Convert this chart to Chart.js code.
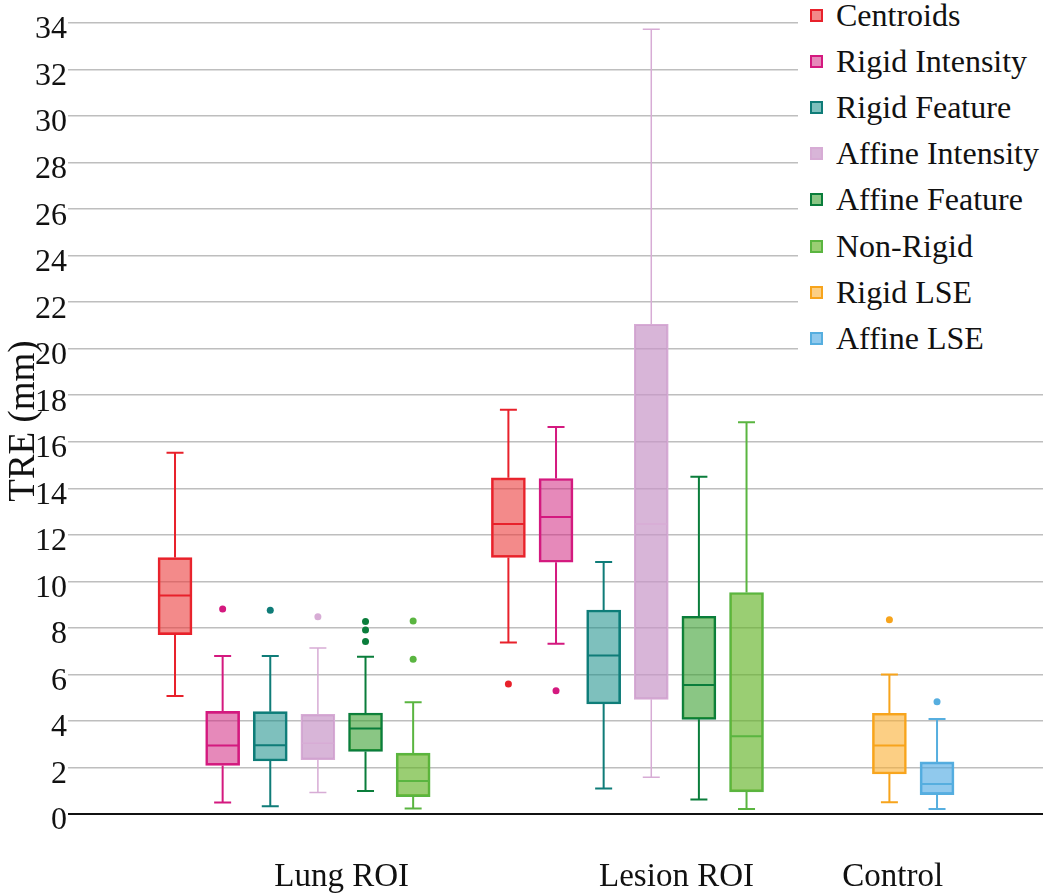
<!DOCTYPE html>
<html>
<head>
<meta charset="utf-8">
<script src="https://cdn.jsdelivr.net/npm/chart.js@4.4.1/dist/chart.umd.min.js"></script>
<style>
  body { margin: 0; background: #fff; }
  #wrap { position: relative; width: 1050px; height: 896px; }
  #legend {
    position: absolute; left: 798px; top: 0; width: 252px; height: 362px;
    background: #fff; color: #111;
    font-family: 'Liberation Serif', 'Times New Roman', serif; font-size: 32px;
  }
  #legend .row { position: absolute; left: 12px; height: 46px; display: flex; align-items: center; white-space: nowrap; }
  #legend .sw { width: 13px; height: 13px; box-sizing: border-box; border: 2px solid; margin-right: 13px; }
</style>
</head>
<body>
<div id="wrap">
  <canvas id="chart" width="1050" height="896"></canvas>
  <div id="legend"></div>
</div>
<script>
const groups = ['Lung ROI', 'Lesion ROI', 'Control'];
const methods = ['Centroids', 'Rigid Intensity', 'Rigid Feature', 'Affine Intensity',
                 'Affine Feature', 'Non-Rigid', 'Rigid LSE', 'Affine LSE'];

// [whisker low, q1, median, q3, whisker high] for Lung ROI, Lesion ROI, Control
const centroids       = [[5.07, 7.71, 9.39, 11.02, 15.53], [7.37, 11.03, 12.47, 14.45, 17.38], null];
const rigidIntensity  = [[0.49, 2.09, 2.94, 4.41, 6.79],   [7.32, 10.82, 12.77, 14.42, 16.64], null];
const rigidFeature    = [[0.33, 2.28, 2.95, 4.40, 6.79],   [1.10, 4.73, 6.81, 8.77, 10.83],    null];
const affineIntensity = [[0.92, 2.34, 3.04, 4.28, 7.14],   [1.58, 4.93, 12.47, 21.05, 33.73],  null];
const affineFeature   = [[0.99, 2.69, 3.68, 4.34, 6.76],   [0.62, 4.07, 5.55, 8.50, 14.50],    null];
const nonRigid        = [[0.24, 0.75, 1.42, 2.62, 4.80],   [0.21, 0.95, 3.34, 9.52, 16.84],    null];
const rigidLSE        = [null, null, [0.50, 1.72, 2.94, 4.33, 6.00]];
const affineLSE       = [null, null, [0.21, 0.83, 1.29, 2.24, 4.08]];

// outliers per group
const centroidsOut       = [[], [5.59], []];
const rigidIntensityOut  = [[8.81], [5.30], []];
const rigidFeatureOut    = [[8.76], [], []];
const affineIntensityOut = [[8.48], [], []];
const affineFeatureOut   = [[8.27, 7.91, 7.42], [], []];
const nonRigidOut        = [[8.30, 6.65], [], []];
const rigidLSEOut        = [[], [], [8.35]];
const affineLSEOut       = [[], [], [4.83]];

const yTicks = [0, 34, 2]; // min, max, step

const boxes = [centroids, rigidIntensity, rigidFeature, affineIntensity, affineFeature, nonRigid, rigidLSE, affineLSE];
const outliers = [centroidsOut, rigidIntensityOut, rigidFeatureOut, affineIntensityOut,
                  affineFeatureOut, nonRigidOut, rigidLSEOut, affineLSEOut];

// layout: slot where each group starts, and where its label sits
const groupStart = [0, 7, 15];
const labelAt = [3.5, 10.53, 15.07];

const lineColors = ['#E8212B', '#D4197F', '#0F7C78', '#D7ACD5', '#0A7D3B', '#5AB540', '#F7A41C', '#56AEDF'];
const fillColors = ['rgba(235,60,60,0.6)', 'rgba(210,40,130,0.55)', 'rgba(20,140,135,0.55)',
                    'rgba(200,150,200,0.7)', 'rgba(60,160,50,0.6)', 'rgba(100,180,40,0.65)',
                    'rgba(250,175,50,0.6)', 'rgba(70,165,225,0.6)'];
const lineWidths = [2, 2, 2, 1.5, 2, 2, 2, 2];
const serif = "'Liberation Serif', 'Times New Roman', serif";

const datasets = [];
methods.forEach((name, i) => {
  const bars = [];
  const pts = [];
  groups.forEach((g, gi) => {
    const b = boxes[i][gi];
    if (!b) return;
    const order = boxes.slice(0, i).filter(s => s[gi]).length;
    const x = groupStart[gi] + order;
    bars.push({ x: x, y: [b[1], b[3]], lo: b[0], med: b[2], hi: b[4] });
    outliers[i][gi].forEach(v => pts.push({ x: x, y: v }));
  });
  datasets.push({
    type: 'bar', label: name, data: bars,
    backgroundColor: fillColors[i], borderColor: lineColors[i], borderWidth: lineWidths[i],
    borderSkipped: false, grouped: false, barThickness: 34
  });
  if (pts.length) {
    datasets.push({
      type: 'scatter', label: name + ' outliers', data: pts,
      pointRadius: 3.5, pointBackgroundColor: lineColors[i], pointBorderWidth: 0
    });
  }
});

// whiskers, caps and medians for the floating bars
const boxWhiskers = {
  id: 'boxWhiskers',
  afterDatasetsDraw(chart) {
    const { ctx, scales: { x, y } } = chart;
    chart.data.datasets.forEach(ds => {
      if (ds.type !== 'bar') return;
      ctx.save();
      ctx.strokeStyle = ds.borderColor;
      ctx.lineWidth = ds.borderWidth;
      ds.data.forEach(d => {
        const px = x.getPixelForValue(d.x);
        const yq1 = y.getPixelForValue(d.y[0]), yq3 = y.getPixelForValue(d.y[1]);
        const ylo = y.getPixelForValue(d.lo), yhi = y.getPixelForValue(d.hi);
        const ym = y.getPixelForValue(d.med);
        ctx.beginPath();
        ctx.moveTo(px, yq3); ctx.lineTo(px, yhi);
        ctx.moveTo(px, yq1); ctx.lineTo(px, ylo);
        ctx.moveTo(px - 8.5, yhi); ctx.lineTo(px + 8.5, yhi);
        ctx.moveTo(px - 8.5, ylo); ctx.lineTo(px + 8.5, ylo);
        ctx.moveTo(px - 16, ym); ctx.lineTo(px + 16, ym);
        ctx.stroke();
      });
      ctx.restore();
    });
  }
};

// axis title overlapping the tick labels, as in the original
const yTitle = {
  id: 'yTitle',
  afterDraw(chart) {
    const ctx = chart.ctx;
    ctx.save();
    ctx.translate(24, 421);
    ctx.rotate(-Math.PI / 2);
    ctx.font = '37px ' + serif;
    ctx.fillStyle = '#111';
    ctx.textAlign = 'center';
    ctx.textBaseline = 'middle';
    ctx.fillText('TRE (mm)', 0, 0);
    ctx.restore();
  }
};

new Chart(document.getElementById('chart').getContext('2d'), {
  type: 'bar',
  data: { datasets: datasets },
  options: {
    responsive: false,
    animation: false,
    layout: { padding: { left: 0, top: 23, right: 7, bottom: 0 } },
    plugins: { legend: { display: false }, tooltip: { enabled: false } },
    scales: {
      x: {
        type: 'linear', offset: false,
        min: -2.163, max: 18.225,
        grid: { display: false }, border: { display: false },
        afterBuildTicks: s => { s.ticks = labelAt.map(v => ({ value: v })); },
        afterFit: s => { s.height = 82; },
        ticks: {
          autoSkip: false, maxRotation: 0, padding: 36, color: '#111',
          font: { family: serif, size: 33 },
          callback: (v, i) => groups[i]
        }
      },
      y: {
        min: yTicks[0], max: yTicks[1],
        afterFit: s => { s.width = 72; },
        border: { display: false },
        grid: {
          color: c => c.tick && c.tick.value === 0 ? '#111' : '#BEBEBE',
          lineWidth: c => c.tick && c.tick.value === 0 ? 2 : 1.5,
          tickLength: 4
        },
        ticks: {
          stepSize: yTicks[2], padding: 1, labelOffset: 7, color: '#111',
          font: { family: serif, size: 32 }
        }
      }
    }
  },
  plugins: [boxWhiskers, yTitle]
});

const legend = document.getElementById('legend');
methods.forEach((name, i) => {
  const row = document.createElement('div');
  row.className = 'row';
  row.style.top = (-8 + i * 46.2) + 'px';
  const sw = document.createElement('span');
  sw.className = 'sw';
  sw.style.borderColor = lineColors[i];
  sw.style.background = fillColors[i];
  const label = document.createElement('span');
  label.textContent = name;
  row.appendChild(sw);
  row.appendChild(label);
  legend.appendChild(row);
});
</script>
</body>
</html>
